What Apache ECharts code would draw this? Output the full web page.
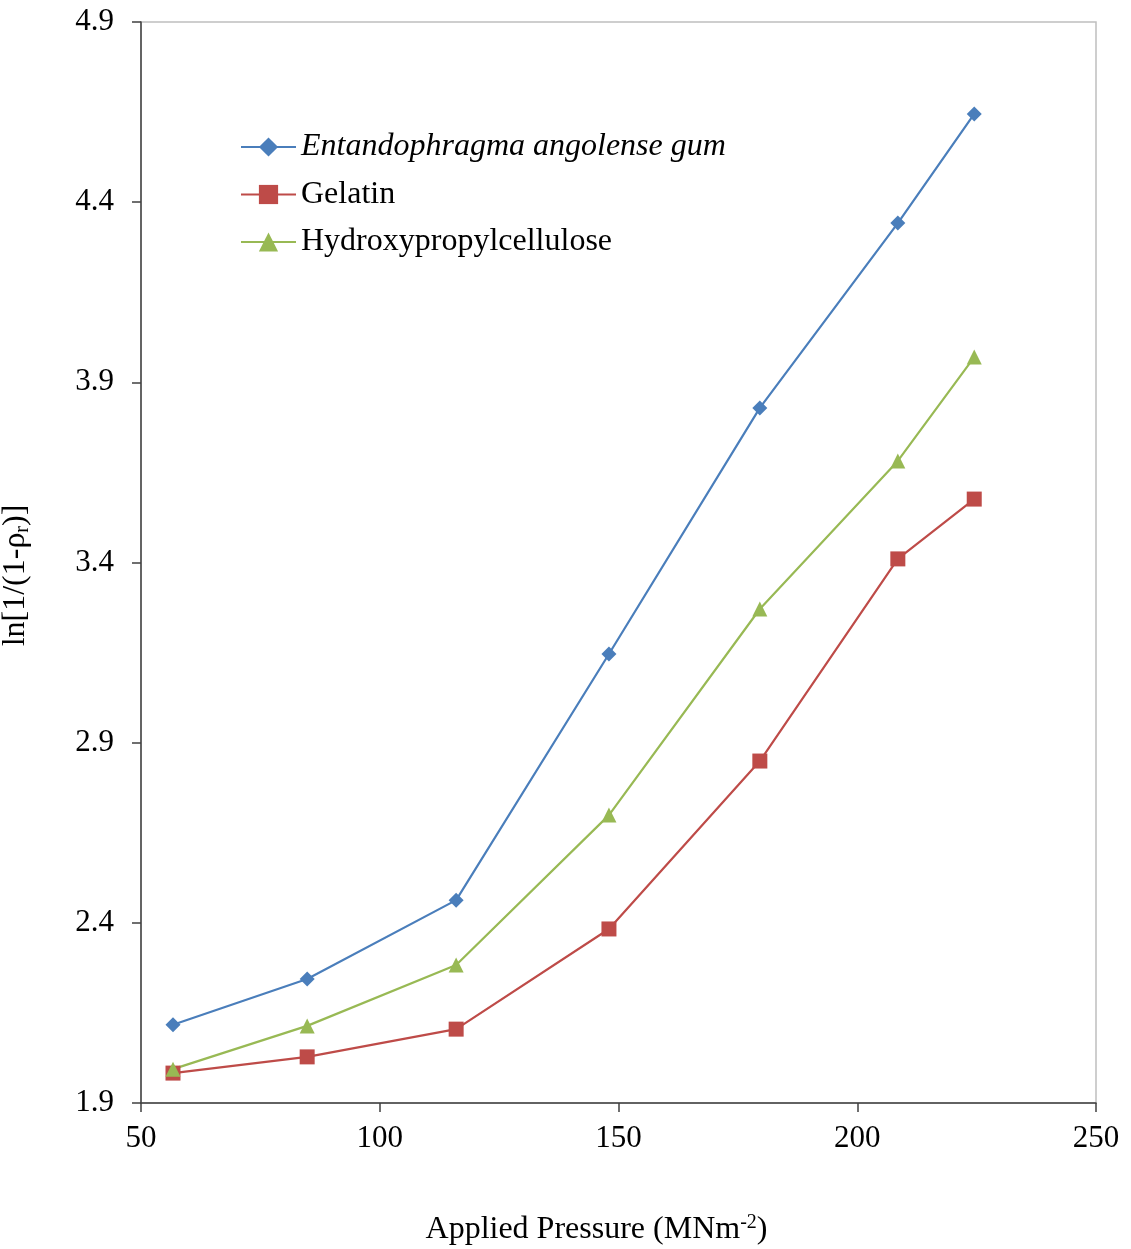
<!DOCTYPE html>
<html><head><meta charset="utf-8">
<script src="https://cdn.jsdelivr.net/npm/echarts@6/dist/echarts.min.js"></script>
<style>html,body{margin:0;padding:0;background:#fff}#c{width:1131px;height:1249px}</style>
</head><body><div id="c"></div>
<script>
const pressure = [56.7, 84.8, 116.0, 148.0, 179.6, 208.5, 224.5];
const entandophragma = [2.117, 2.244, 2.463, 3.146, 3.829, 4.342, 4.645];
const gelatin = [1.983, 2.028, 2.105, 2.383, 2.849, 3.410, 3.576];
const hpc = [1.994, 2.114, 2.283, 2.699, 3.271, 3.682, 3.970];
const seriesNames = ['Entandophragma angolense gum', 'Gelatin', 'Hydroxypropylcellulose'];

const F = '"Liberation Serif", "Times New Roman", serif';
const chart = echarts.init(document.getElementById('c'));
const pairs = a => pressure.map((x, i) => [x, a[i]]);
const mk = (name, data, color, symbol, size) => ({
  name, type: 'line', data: pairs(data), symbol, symbolSize: size,
  lineStyle: {color, width: 2.2}, itemStyle: {color}
});
chart.setOption({
  animation: false,
  grid: {left: 141, right: 35, top: 22, bottom: 146, show: true, borderColor: '#bfbfbf', borderWidth: 1.5,
    containLabel: false, outerBoundsMode: 'none'},
  legend: {
    left: 240, top: 131, padding: 0, orient: 'vertical', itemGap: 15.5, itemWidth: 55, itemHeight: 24,
    data: seriesNames,
    textStyle: {fontFamily: F, fontSize: 32, color: '#000',
      rich: {it: {fontFamily: F, fontSize: 32, fontStyle: 'italic', color: '#000'}}},
    formatter: n => n === seriesNames[0] ? '{it|' + n + '}' : n
  },
  xAxis: {
    type: 'value', min: 50, max: 250, interval: 50,
    name: 'Applied Pressure (MNm{sup|-2})', nameLocation: 'middle', nameGap: 110,
    nameTextStyle: {fontFamily: F, fontSize: 32, color: '#000', padding: [0, 44, 0, 0],
      rich: {sup: {fontFamily: F, fontSize: 20, color: '#000', verticalAlign: 'top', padding: [0, 0, 14, 0]}}},
    axisLine: {lineStyle: {color: '#404040', width: 1.5}},
    axisTick: {show: true, inside: false, length: 9, lineStyle: {color: '#404040', width: 1.5}},
    axisLabel: {fontFamily: F, fontSize: 31, color: '#000', margin: 20},
    splitLine: {show: false}
  },
  yAxis: {
    type: 'value', min: 1.9, max: 4.9, interval: 0.5,
    name: 'ln[1/(1-ρ{sub|r})]', nameLocation: 'middle', nameGap: 108, nameRotate: 90,
    nameTextStyle: {fontFamily: F, fontSize: 32, color: '#000', padding: [0, 26, 0, 0],
      rich: {sub: {fontFamily: F, fontSize: 20, color: '#000', padding: [14, 0, 0, 0]}}},
    axisLine: {show: true, lineStyle: {color: '#404040', width: 1.5}},
    axisTick: {show: true, inside: false, length: 9, lineStyle: {color: '#404040', width: 1.5}},
    axisLabel: {fontFamily: F, fontSize: 31, color: '#000', margin: 27, formatter: v => v.toFixed(1)},
    splitLine: {show: false}
  },
  series: [
    mk(seriesNames[0], entandophragma, '#4a7ebb', 'diamond', 15),
    mk(seriesNames[1], gelatin, '#be4b48', 'rect', 15),
    mk(seriesNames[2], hpc, '#98b954', 'triangle', 15)
  ]
});
</script></body></html>
